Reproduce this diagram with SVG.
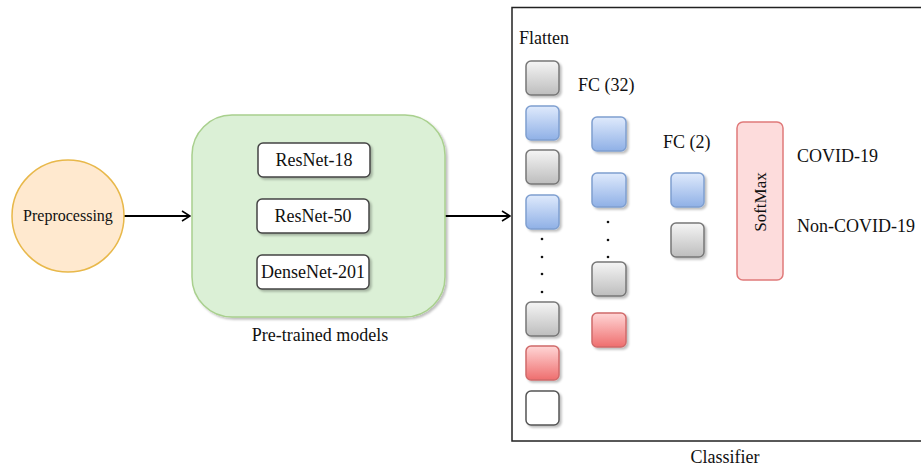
<svg xmlns="http://www.w3.org/2000/svg" width="921" height="466" viewBox="0 0 921 466">
  <defs>
    <linearGradient id="gGray" x1="0" y1="0" x2="0" y2="1">
      <stop offset="0" stop-color="#f5f5f5"/>
      <stop offset="1" stop-color="#bdbdbd"/>
    </linearGradient>
    <linearGradient id="gBlue" x1="0" y1="0" x2="0" y2="1">
      <stop offset="0" stop-color="#dfeafc"/>
      <stop offset="1" stop-color="#8fb0e6"/>
    </linearGradient>
    <linearGradient id="gRed" x1="0" y1="0" x2="0" y2="1">
      <stop offset="0" stop-color="#ffd6d6"/>
      <stop offset="1" stop-color="#ee6e6e"/>
    </linearGradient>
    <filter id="shadow" x="-20%" y="-20%" width="150%" height="150%">
      <feDropShadow dx="2" dy="2" stdDeviation="1" flood-color="#000" flood-opacity="0.25"/>
    </filter>
    <marker id="arrow" viewBox="0 0 10 12" refX="9" refY="6" markerWidth="10" markerHeight="12" markerUnits="userSpaceOnUse" orient="auto">
      <path d="M1,1 L9,6 L1,11" fill="none" stroke="#000" stroke-width="1.5"/>
    </marker>
  </defs>
  <style>
    text { font-family: "Liberation Serif", "Times New Roman", serif; fill: #111; }
    .lbl { font-size: 18px; }
    .conn { stroke: #000; stroke-width: 2; fill: none; }
    .unit { stroke-width: 1.5; filter: url(#shadow); }
    .gray { fill: url(#gGray); stroke: #777; }
    .blue { fill: url(#gBlue); stroke: #7f9fd0; }
    .red { fill: url(#gRed); stroke: #d06a6a; }
    .white { fill: #fff; stroke: #555; }
    .model { fill: #fff; stroke: #444; stroke-width: 1.5; filter: url(#shadow); }
    .dot { fill: #111; }
  </style>
  <rect width="921" height="466" fill="#fff"/>

  <!-- Connectors -->
  <g id="connectors">
    <line class="conn" x1="124" y1="216" x2="190" y2="216" marker-end="url(#arrow)"/>
    <line class="conn" x1="445" y1="216" x2="510" y2="216" marker-end="url(#arrow)"/>
  </g>

  <!-- Preprocessing -->
  <g id="preprocessing">
    <circle cx="68" cy="216" r="56" fill="#ffe9cf" stroke="#e8b84a" stroke-width="1.5"/>
    <text x="68" y="221" font-size="16" text-anchor="middle">Preprocessing</text>
  </g>

  <!-- Pre-trained backbones -->
  <g id="pretrained">
    <rect x="192" y="115" width="253" height="202" rx="40" fill="#dbf0d6" stroke="#a9d08e" stroke-width="1.5" filter="url(#shadow)"/>
    <text class="lbl" x="320" y="341" text-anchor="middle">Pre-trained models</text>
  </g>
  <g id="resnet18">
    <rect class="model" x="258" y="143" width="112" height="34" rx="5"/>
    <text class="lbl" x="314" y="166" text-anchor="middle">ResNet-18</text>
  </g>
  <g id="resnet50">
    <rect class="model" x="257" y="199" width="112" height="34" rx="5"/>
    <text class="lbl" x="313" y="222" text-anchor="middle">ResNet-50</text>
  </g>
  <g id="densenet201">
    <rect class="model" x="257" y="255" width="112" height="34" rx="5"/>
    <text class="lbl" x="313" y="278" text-anchor="middle">DenseNet-201</text>
  </g>

  <!-- Classifier head -->
  <g id="classifier">
    <rect x="512" y="7.5" width="420" height="433.5" fill="none" stroke="#222" stroke-width="1.5"/>
    <text class="lbl" x="725" y="463" text-anchor="middle">Classifier</text>
  </g>

  <g id="flatten">
    <text class="lbl" x="519" y="44">Flatten</text>
    <rect class="unit gray" x="526" y="61" width="33" height="34" rx="5"/>
    <rect class="unit blue" x="526" y="106" width="33" height="34" rx="5"/>
    <rect class="unit gray" x="526" y="150" width="33" height="34" rx="5"/>
    <rect class="unit blue" x="526" y="195" width="33" height="34" rx="5"/>
    <circle class="dot" cx="542" cy="239" r="1.3"/>
    <circle class="dot" cx="542" cy="257" r="1.3"/>
    <circle class="dot" cx="542" cy="274" r="1.3"/>
    <circle class="dot" cx="542" cy="292" r="1.3"/>
    <rect class="unit gray" x="526" y="302" width="33" height="34" rx="5"/>
    <rect class="unit red" x="526" y="346" width="33" height="34" rx="5"/>
    <rect class="unit white" x="526" y="391" width="33" height="34" rx="5"/>
  </g>

  <g id="fc32">
    <text class="lbl" x="578" y="91">FC (32)</text>
    <rect class="unit blue" x="592" y="117" width="34" height="34" rx="5"/>
    <rect class="unit blue" x="592" y="173" width="34" height="34" rx="5"/>
    <circle class="dot" cx="608" cy="222" r="1.3"/>
    <circle class="dot" cx="608" cy="240" r="1.3"/>
    <circle class="dot" cx="608" cy="257" r="1.3"/>
    <rect class="unit gray" x="592" y="262" width="34" height="34" rx="5"/>
    <rect class="unit red" x="592" y="313" width="34" height="34" rx="5"/>
  </g>

  <g id="fc2">
    <text class="lbl" x="663" y="148">FC (2)</text>
    <rect class="unit blue" x="671" y="173" width="33" height="34" rx="5"/>
    <rect class="unit gray" x="671" y="223" width="33" height="34" rx="5"/>
  </g>

  <g id="softmax">
    <rect x="737" y="122" width="46" height="158" rx="6" fill="#fddcdc" stroke="#e07a7a" stroke-width="1.5"/>
    <text x="766" y="202" font-size="17" text-anchor="middle" transform="rotate(-90 766 202)">SoftMax</text>
  </g>

  <g id="outputs">
    <text class="lbl" x="797" y="162">COVID-19</text>
    <text class="lbl" x="797" y="232">Non-COVID-19</text>
  </g>
</svg>
